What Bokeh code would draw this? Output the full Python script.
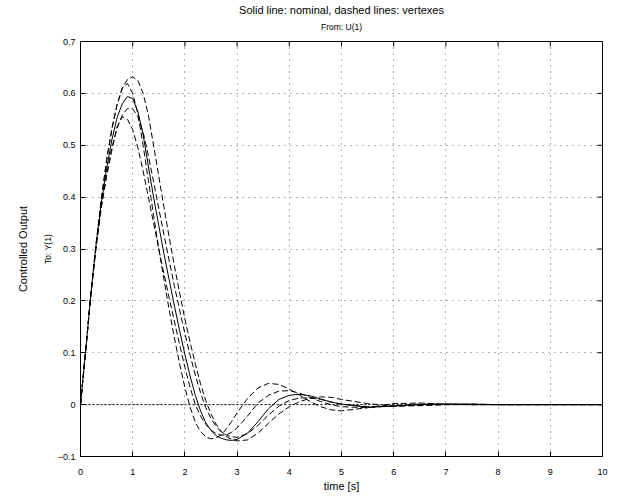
from bokeh.plotting import figure
from bokeh.models import FixedTicker, Range1d, Title
from bokeh.embed import file_html
from bokeh.resources import INLINE

# time grid [s]
t = [0, 0.1, 0.2, 0.3, 0.4, 0.5, 0.6, 0.7, 0.8, 0.9, 1.0, 1.1, 1.2, 1.3, 1.4, 1.5,
     1.6, 1.7, 1.8, 1.9, 2.0, 2.1, 2.2, 2.3, 2.4, 2.5, 2.6, 2.7, 2.8, 2.9, 3.0,
     3.2, 3.4, 3.6, 3.8, 4.0, 4.2, 4.4, 4.6, 4.8, 5.0,
     5.5, 6.0, 6.5, 7.0, 7.5, 8.0, 9.0, 10.0]

nominal = [0, 0.105, 0.215, 0.31, 0.39, 0.455, 0.51, 0.553, 0.58, 0.594, 0.59, 0.565, 0.52, 0.46, 0.40, 0.345,
           0.29, 0.24, 0.19, 0.142, 0.097, 0.055, 0.018, -0.012, -0.035, -0.05, -0.06, -0.065, -0.068, -0.069, -0.067,
           -0.055, -0.033, -0.008, 0.01, 0.018, 0.02, 0.017, 0.011, 0.005, 0.001,
           -0.005, -0.003, 0.0, 0.001, 0.001, 0.0, 0.0, 0.0]

vertex_a = [0, 0.105, 0.215, 0.31, 0.395, 0.47, 0.53, 0.578, 0.61, 0.619, 0.60, 0.56, 0.50, 0.432, 0.365, 0.30,
            0.24, 0.182, 0.128, 0.078, 0.033, -0.005, -0.034, -0.052, -0.062, -0.066, -0.064, -0.058, -0.046, -0.032, -0.016,
            0.012, 0.032, 0.041, 0.039, 0.03, 0.018, 0.006, -0.004, -0.01, -0.012,
            -0.006, 0.002, 0.003, 0.001, 0.0, 0.0, 0.0, 0.0]

vertex_b = [0, 0.105, 0.212, 0.305, 0.38, 0.44, 0.49, 0.535, 0.555, 0.55, 0.53, 0.495, 0.45, 0.40, 0.35, 0.30,
            0.252, 0.205, 0.16, 0.115, 0.072, 0.033, 0.0, -0.022, -0.038, -0.049, -0.056, -0.059, -0.058, -0.053, -0.045,
            -0.022, 0.003, 0.018, 0.026, 0.027, 0.022, 0.014, 0.006, 0.0, -0.004,
            -0.006, -0.002, 0.001, 0.001, 0.0, 0.0, 0.0, 0.0]

vertex_c = [0, 0.105, 0.213, 0.305, 0.383, 0.445, 0.495, 0.533, 0.558, 0.571, 0.57, 0.555, 0.525, 0.48, 0.43, 0.378,
            0.327, 0.277, 0.228, 0.182, 0.137, 0.095, 0.057, 0.023, -0.006, -0.027, -0.042, -0.053, -0.059, -0.062, -0.063,
            -0.056, -0.04, -0.02, -0.003, 0.008, 0.013, 0.013, 0.01, 0.005, 0.001,
            -0.004, -0.003, -0.001, 0.0, 0.0, 0.0, 0.0, 0.0]

vertex_d = [0, 0.105, 0.215, 0.312, 0.398, 0.472, 0.532, 0.578, 0.61, 0.627, 0.632, 0.625, 0.60, 0.558, 0.50, 0.44,
            0.38, 0.322, 0.267, 0.215, 0.165, 0.12, 0.078, 0.04, 0.008, -0.018, -0.038, -0.052, -0.062, -0.067, -0.07,
            -0.068, -0.055, -0.036, -0.018, -0.004, 0.006, 0.012, 0.015, 0.014, 0.01,
            0.002, -0.003, -0.002, 0.0, 0.001, 0.0, 0.0, 0.0]

x_ticks = [0, 1, 2, 3, 4, 5, 6, 7, 8, 9, 10]
y_ticks = [-0.1, 0, 0.1, 0.2, 0.3, 0.4, 0.5, 0.6, 0.7]
y_tick_labels = ["\u22120.1", "0", "0.1", "0.2", "0.3", "0.4", "0.5", "0.6", "0.7"]

title_text = "Solid line: nominal, dashed lines: vertexes"
subtitle_text = "From: U(1)"
ylabel_outer = "Controlled Output"
ylabel_inner = "To: Y(1)"
xlabel_text = "time [s]"

FONT = "Liberation Sans"
X0, X1 = 0, 10
Y0, Y1 = -0.1, 0.7

p = figure(width=617, height=501, output_backend="svg", toolbar_location=None,
           x_range=Range1d(X0, X1), y_range=Range1d(Y0, Y1),
           min_border_left=80, min_border_right=15, min_border_top=41, min_border_bottom=45,
           title=None)
p.background_fill_color = "white"
p.border_fill_color = "white"
p.outline_line_color = "black"
p.outline_line_width = 1

for ax in (p.xaxis[0], p.yaxis[0]):
    ax.axis_line_color = "black"
    ax.axis_line_width = 1
    ax.major_tick_in = 5
    ax.major_tick_out = 0
    ax.minor_tick_line_color = None
    ax.major_label_text_font = FONT
    ax.major_label_text_font_size = "9px"
    ax.major_label_text_color = "black"
    ax.major_tick_line_color = "black"
    ax.axis_label_text_font = FONT
    ax.axis_label_text_font_style = "normal"
    ax.axis_label_text_color = "black"

p.xaxis[0].ticker = FixedTicker(ticks=x_ticks)
p.yaxis[0].ticker = FixedTicker(ticks=y_ticks)
p.xaxis[0].major_label_standoff = 12
p.yaxis[0].major_label_standoff = 5
p.yaxis[0].major_label_overrides = {v: s for v, s in zip(y_ticks, y_tick_labels)}
p.xaxis[0].major_label_overrides = {v: str(v) for v in x_ticks}
p.xaxis[0].axis_label = xlabel_text
p.xaxis[0].axis_label_text_font_size = "11px"
p.xaxis[0].axis_label_standoff = 2
p.yaxis[0].axis_label = ylabel_inner
p.yaxis[0].axis_label_text_font_size = "8.5px"
p.yaxis[0].axis_label_standoff = 2

p.xgrid.ticker = FixedTicker(ticks=x_ticks)
p.ygrid.ticker = FixedTicker(ticks=y_ticks)
for g in (p.xgrid[0], p.ygrid[0]):
    g.grid_line_color = "#666666"
    g.grid_line_dash = "1 5"
    g.grid_line_width = 1

# mirrored tick marks on the top and right sides of the box (5 px long)
frame_w, frame_h = 522.0, 415.0
tick_dx = 5 * (X1 - X0) / frame_w
tick_dy = 5 * (Y1 - Y0) / frame_h
p.segment(x0=x_ticks, y0=[Y1] * len(x_ticks), x1=x_ticks, y1=[Y1 - tick_dy] * len(x_ticks),
          line_color="black", line_width=1)
p.segment(x0=[X1] * len(y_ticks), y0=y_ticks, x1=[X1 - tick_dx] * len(y_ticks), y1=y_ticks,
          line_color="black", line_width=1)

# zero reference line
p.line([X0, X1], [0, 0], line_color="black", line_dash="2 2", line_width=1)

for series in (vertex_a, vertex_b, vertex_c, vertex_d):
    p.line(t, series, line_color="black", line_width=1, line_dash="6 3")
p.line(t, nominal, line_color="black", line_width=1)

sub = Title(text=subtitle_text, align="center", text_font=FONT, text_font_size="8.5px",
            text_font_style="normal", text_color="black", standoff=20)
main = Title(text=title_text, align="center", text_font=FONT, text_font_size="11px",
             text_font_style="normal", text_color="black", standoff=-12)
p.add_layout(sub, "above")
p.add_layout(main, "above")

left_title = Title(text=ylabel_outer, align="center", text_font=FONT, text_font_size="11px",
                   text_font_style="normal", text_color="black", standoff=21)
p.add_layout(left_title, "left")

open("out.html", "w").write(file_html(p, INLINE))
